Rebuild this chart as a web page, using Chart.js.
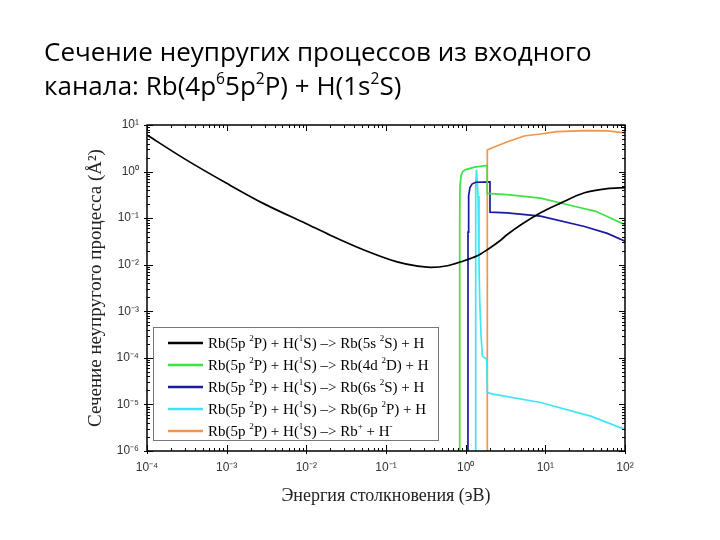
<!DOCTYPE html>
<html>
<head>
<meta charset="utf-8">
<script src="https://cdn.jsdelivr.net/npm/chart.js@4.4.0/dist/chart.umd.min.js"></script>
<style>
  html, body { margin: 0; padding: 0; background: #fff; }
  #wrap { position: relative; width: 720px; height: 540px; overflow: hidden; }
  #heading {
    position: absolute; left: 44px; top: 34px;
    font-family: 'Open Sans', sans-serif; font-size: 26px; line-height: 34px; color: #000;
    white-space: nowrap;
  }
  #heading sup { font-size: 60%; line-height: 0; vertical-align: 0.7em; }
  canvas { position: absolute; left: 0; top: 0; }
</style>
</head>
<body>
<div id="wrap">
  <canvas id="myChart" width="720" height="540"></canvas>
  <div id="heading">Сечение неупругих процессов из входного<br>канала: Rb(4p<sup>6</sup>5p<sup>2</sup>P) + H(1s<sup>2</sup>S)</div>
</div>
<script>
/* DATA (energy in eV, cross section in A^2) */

const energy5s = [1e-4, 3e-4, 1e-3, 3e-3, 1e-2, 2e-2, 5.2e-2, 0.138, 0.25, 0.363, 0.59, 0.865, 1.4, 1.87, 2.77, 3.3, 8.7, 15.5, 31, 60, 100];
const sigma5s  = [6.1, 1.85, 0.56, 0.2, 0.076, 0.043, 0.021, 0.0115, 0.0093, 0.0088, 0.0095, 0.0115, 0.0155, 0.021, 0.034, 0.044, 0.13, 0.21, 0.35, 0.43, 0.45];

const energy4d = [0.840, 0.842, 0.85, 0.88, 0.92, 1.0, 1.3, 1.86, 1.862, 3.3, 8.7, 23, 43, 100];
const sigma4d  = [1e-8, 0.1, 0.5, 0.85, 1.0, 1.1, 1.25, 1.35, 0.34, 0.32, 0.27, 0.18, 0.14, 0.072];

const energy6s = [1.068, 1.07, 1.09, 1.13, 1.2, 1.34, 2.02, 2.021, 3.3, 8.7, 31, 60, 100];
const sigma6s  = [1e-8, 0.05, 0.3, 0.45, 0.54, 0.59, 0.6, 0.135, 0.13, 0.11, 0.066, 0.047, 0.032];

const energy6p = [1.335, 1.337, 1.37, 1.43, 1.47, 1.5, 1.56, 1.62, 1.84, 1.87, 2.2, 8.7, 37, 100];
const sigma6p  = [1e-8, 0.5, 1.1, 0.3, 0.01, 0.0018, 3e-4, 1.1e-4, 9.3e-5, 1.8e-5, 1.66e-5, 1.1e-5, 5.6e-6, 2.9e-6];

const energyIon = [1.865, 1.87, 2.2, 3.3, 5.4, 8.7, 14, 31, 60, 100];
const sigmaIon  = [1e-8, 2.9, 3.3, 4.3, 5.8, 6.4, 7.2, 7.55, 7.5, 6.8];

const seriesLabels = [
  'Rb(5p ^2P) + H(^1S) –> Rb(5s ^2S) + H',
  'Rb(5p ^2P) + H(^1S) –> Rb(4d ^2D) + H',
  'Rb(5p ^2P) + H(^1S) –> Rb(6s ^2S) + H',
  'Rb(5p ^2P) + H(^1S) –> Rb(6p ^2P) + H',
  'Rb(5p ^2P) + H(^1S) –> Rb^+ + H^-'
];
const seriesColors = ['#000000', '#3fe23f', '#1a1a9e', '#3ee6f2', '#f0964c'];

const xTicks = [1e-4, 1e-3, 1e-2, 1e-1, 1, 10, 100];
const xTickLabels = ['10⁻⁴', '10⁻³', '10⁻²', '10⁻¹', '10⁰', '10¹', '10²'];
const yTicks = [1e-6, 1e-5, 1e-4, 1e-3, 1e-2, 1e-1, 1, 10];
const yTickLabels = ['10⁻⁶', '10⁻⁵', '10⁻⁴', '10⁻³', '10⁻²', '10⁻¹', '10⁰', '10¹'];


/* HELPERS */

function toPoints(xs, ys) {
  return xs.map(function(x, i) { return { x: x, y: ys[i] }; });
}

// draws text where "^c" means: c as superscript
function drawRich(ctx, text, x, y, size) {
  const parts = text.split(/\^(.)/);
  let cx = x;
  parts.forEach(function(part, i) {
    const sup = i % 2 === 1;
    ctx.font = (sup ? Math.round(size * 0.62) : size) + 'px "Liberation Serif", serif';
    ctx.fillText(part, cx, sup ? y - size * 0.38 : y);
    cx += ctx.measureText(part).width;
  });
}


/* PLUGIN: frame, inward ticks, legend box */

const framePlugin = {
  id: 'framePlugin',
  afterDatasetsDraw(chart) {
    const ctx = chart.ctx;
    const a = chart.chartArea;
    const sx = chart.scales.x;
    const sy = chart.scales.y;

    ctx.save();
    ctx.strokeStyle = '#000';
    ctx.lineWidth = 1;
    ctx.beginPath();
    for (let p = -4; p <= 2; p++) {
      for (let m = 1; m <= 9; m++) {
        if (p === 2 && m > 1) break;
        const x = Math.round(sx.getPixelForValue(m * Math.pow(10, p))) + 0.5;
        const len = m === 1 ? 6 : 3;
        ctx.moveTo(x, a.bottom + (m === 1 ? 3 : 0)); ctx.lineTo(x, a.bottom - len);
        ctx.moveTo(x, a.top); ctx.lineTo(x, a.top + len);
      }
    }
    for (let p = -6; p <= 1; p++) {
      for (let m = 1; m <= 9; m++) {
        if (p === 1 && m > 1) break;
        const y = Math.round(sy.getPixelForValue(m * Math.pow(10, p))) + 0.5;
        const len = m === 1 ? 6 : 3;
        ctx.moveTo(a.left - (m === 1 ? 3 : 0), y); ctx.lineTo(a.left + len, y);
        ctx.moveTo(a.right, y); ctx.lineTo(a.right - len, y);
      }
    }
    ctx.stroke();

    ctx.lineWidth = 1.5;
    ctx.strokeRect(a.left, a.top, a.right - a.left, a.bottom - a.top);

    // legend
    const lx = a.left + 6, ly = a.top + 202, lw = 285, lh = 113;
    ctx.fillStyle = '#fff';
    ctx.fillRect(lx, ly, lw, lh);
    ctx.strokeStyle = '#777';
    ctx.lineWidth = 1;
    ctx.strokeRect(lx + 0.5, ly + 0.5, lw, lh);

    ctx.textBaseline = 'middle';
    seriesLabels.forEach(function(label, i) {
      const rowY = ly + 16 + i * 22;
      ctx.strokeStyle = seriesColors[i];
      ctx.lineWidth = 2.5;
      ctx.beginPath();
      ctx.moveTo(lx + 15, rowY);
      ctx.lineTo(lx + 50, rowY);
      ctx.stroke();
      ctx.fillStyle = '#000';
      drawRich(ctx, label, lx + 55, rowY + 1, 15);
    });
    ctx.restore();
  }
};


/* CHART */

const datasets = [
  toPoints(energy5s, sigma5s),
  toPoints(energy4d, sigma4d),
  toPoints(energy6s, sigma6s),
  toPoints(energy6p, sigma6p),
  toPoints(energyIon, sigmaIon)
].map(function(points, i) {
  return {
    label: seriesLabels[i],
    data: points,
    borderColor: seriesColors[i],
    borderWidth: 1.7,
    pointRadius: 0,
    fill: false,
    cubicInterpolationMode: i === 0 ? 'monotone' : 'default',
    tension: 0
  };
});

const ctx = document.getElementById('myChart').getContext('2d');

const chart = new Chart(ctx, {
  type: 'line',
  data: { datasets: datasets },
  options: {
    responsive: false,
    animation: false,
    layout: { padding: { left: 70, top: 125, right: 95, bottom: 20 } },
    plugins: { legend: { display: false }, tooltip: { enabled: false } },
    scales: {
      x: {
        type: 'logarithmic',
        min: 1e-4,
        max: 100,
        afterBuildTicks: function(s) { s.ticks = xTicks.map(function(v) { return { value: v }; }); },
        afterFit: function(s) { s.height = 69; },
        grid: { display: false, drawTicks: false },
        border: { display: false },
        ticks: {
          autoSkip: false,
          maxRotation: 0,
          padding: 9,
          color: '#333',
          font: { family: 'Liberation Sans', size: 12 },
          callback: function(v, i) { return xTickLabels[i]; }
        },
        title: {
          display: true,
          text: 'Энергия столкновения (эВ)',
          color: '#222',
          font: { family: 'Liberation Serif', size: 18 },
          padding: { top: 0, bottom: 13 }
        }
      },
      y: {
        type: 'logarithmic',
        min: 1e-6,
        max: 10,
        afterBuildTicks: function(s) { s.ticks = yTicks.map(function(v) { return { value: v }; }); },
        afterFit: function(s) { s.width = 77; },
        grid: { display: false, drawTicks: false },
        border: { display: false },
        ticks: {
          autoSkip: false,
          padding: 8,
          color: '#333',
          font: { family: 'Liberation Sans', size: 12 },
          callback: function(v, i) { return yTickLabels[i]; }
        },
        title: {
          display: true,
          text: 'Сечение неупругого процесса (Å²)',
          color: '#222',
          font: { family: 'Liberation Serif', size: 19 },
          padding: { top: 15, bottom: 0 }
        }
      }
    }
  },
  plugins: [framePlugin]
});
</script>
</body>
</html>
